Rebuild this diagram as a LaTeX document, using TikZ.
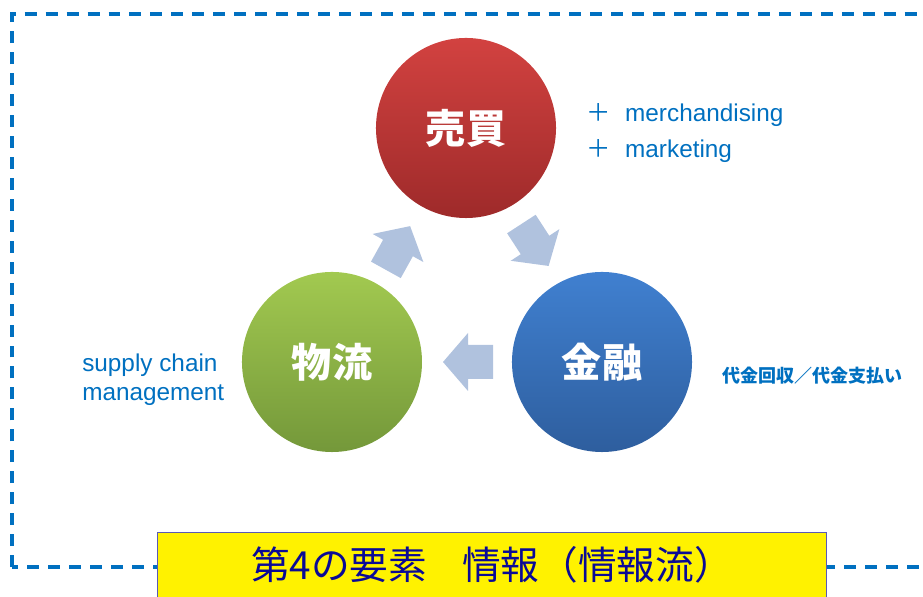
\documentclass[tikz,border=0pt]{standalone}
\usepackage{fontspec}
\setmainfont{Liberation Sans}
\newfontfamily\jp{Noto Sans CJK JP}
\usepackage{tikz}

\definecolor{linkblue}{HTML}{0070C0}
\definecolor{flowblue}{HTML}{B0C2DE}
\definecolor{navytext}{HTML}{0A0A96}
\definecolor{boxline}{HTML}{5A5AB4}

\tikzset{
  bubble/.style={circle, minimum size=4.5cm, inner sep=0pt, text=white,
    font=\jp\bfseries\fontsize{28.5}{32}\selectfont},
  note/.style={text=linkblue, align=left, anchor=west, inner sep=0pt,
    font=\fontsize{17.3}{20}\selectfont},
  flow/.style={fill=flowblue},
  frame/.style={linkblue, line width=2.2pt, dash pattern=on 8.5pt off 6.4pt}
}

\begin{document}
\begin{tikzpicture}[x=0.025cm, y=0.025cm]
\useasboundingbox (0,0) rectangle (923,597);

% dashed frame, runs off the right edge
\begin{scope}
  \clip (0,0) rectangle (923,597);
  \draw[frame] (12,30) rectangle (960,583);
\end{scope}

% the three circles
\node[bubble, top color={rgb,255:red,210;green,66;blue,64}, bottom color={rgb,255:red,158;green,42;blue,42}] (sales) at (466,469) {売買};
\node[bubble, top color={rgb,255:red,162;green,201;blue,80}, bottom color={rgb,255:red,116;green,152;blue,58}] (logi) at (332,235) {物流};
\node[bubble, top color={rgb,255:red,64;green,128;blue,208}, bottom color={rgb,255:red,46;green,94;blue,158}] (fin) at (602,235) {金融};

% flow arrows
\coordinate (up) at (398,349);
\coordinate (down) at (535,352);
\coordinate (back) at (468,235);
\fill[flow, shift={(up)}, rotate=61] (-25,-17) -- (0,-17) -- (0,-29) -- (25,0) -- (0,29) -- (0,17) -- (-25,17) -- cycle;
\fill[flow, shift={(down)}, rotate=-57] (-25,-17) -- (0,-17) -- (0,-29) -- (25,0) -- (0,29) -- (0,17) -- (-25,17) -- cycle;
\fill[flow, shift={(back)}, rotate=180] (-25,-17) -- (0,-17) -- (0,-29) -- (25,0) -- (0,29) -- (0,17) -- (-25,17) -- cycle;

% notes
\node[note] (merch) at (586,482) {{\jp ＋}\hspace{0.6em}merchandising};
\node[note] (mkt) at (586,446) {{\jp ＋}\hspace{0.6em}marketing};
\node[note] (scm) at (82,217) {supply chain\\[0.5pt]management};
\node[note, font=\jp\bfseries\fontsize{12.8}{15}\selectfont] (pay) at (722,221) {代金回収／代金支払い};

% fourth element
\node[draw=boxline, line width=0.7pt, fill=yellow, minimum width=16.7cm, minimum height=1.6cm,
  inner sep=0pt, text=navytext, font=\jp\fontsize{27.5}{30}\selectfont] (info) at (492,32) {第4の要素\hspace{0.9em}情報（情報流）};
\end{tikzpicture}
\end{document}
